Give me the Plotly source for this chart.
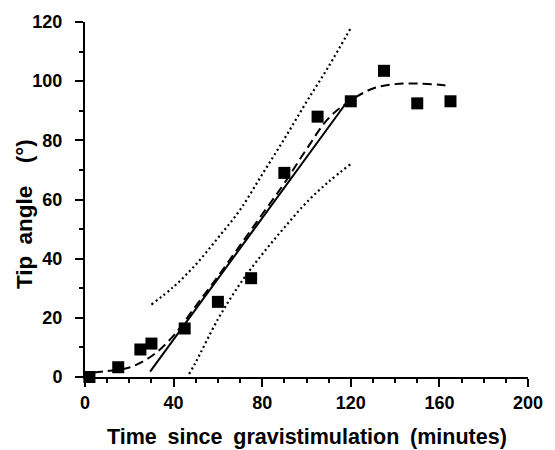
import plotly.graph_objects as go

# Data points (time in minutes, tip angle in degrees)
time_pts = [2, 15, 25, 30, 45, 60, 75, 90, 105, 120, 135, 150, 165]
angle_pts = [0, 3.3, 9.3, 11.3, 16.4, 25.4, 33.4, 69, 88, 93.2, 103.5, 92.5, 93.2]

# Linear regression line (solid)
lin_x = [29.4, 117.5]
lin_y = [1.8, 92.2]

# Fitted sigmoid curve (dashed)
curve_x = [4, 10, 20, 30, 40, 50, 60, 70, 80, 90, 100, 110, 120, 130, 140, 150, 160, 165]
curve_y = [1.5, 2.0, 3.2, 7.0, 14.0, 24.0, 34.0, 44.5, 55.0, 65.5, 77.0, 87.5, 93.5, 97.5, 99.0, 99.2, 98.8, 98.3]

# Confidence bands (dotted)
upper_x = [30, 40, 50, 60, 70, 80, 90, 100, 110, 120]
upper_y = [24.5, 30.5, 38.0, 47.0, 56.5, 68.5, 80.5, 93.0, 105.0, 118.0]
lower_x = [47, 50, 60, 70, 80, 90, 100, 110, 120]
lower_y = [1.0, 5.0, 19.5, 31.5, 41.5, 50.5, 59.0, 66.0, 72.0]

x_ticks = [0, 40, 80, 120, 160, 200]
y_ticks = [0, 20, 40, 60, 80, 100, 120]

x_title = "Time\u2002since\u2002gravistimulation\u2002(minutes)"
y_title = "Tip\u2002angle\u2003(°)"

fig = go.Figure()
fig.add_trace(go.Scatter(x=upper_x, y=upper_y, mode="lines", line_shape="spline",
                         line=dict(color="black", width=2.2, dash="2px,3px"), cliponaxis=False))
fig.add_trace(go.Scatter(x=lower_x, y=lower_y, mode="lines", line_shape="spline",
                         line=dict(color="black", width=2.2, dash="2px,3px"), cliponaxis=False))
fig.add_trace(go.Scatter(x=lin_x, y=lin_y, mode="lines",
                         line=dict(color="black", width=2), cliponaxis=False))
fig.add_trace(go.Scatter(x=curve_x, y=curve_y, mode="lines", line_shape="spline",
                         line=dict(color="black", width=2, dash="9px,5px"), cliponaxis=False))
fig.add_trace(go.Scatter(x=time_pts, y=angle_pts, mode="markers",
                         marker=dict(symbol="square", size=12, color="black"), cliponaxis=False))

font_fam = "Liberation Sans, Arial, sans-serif"
fig.update_layout(
    width=555, height=450,
    margin=dict(l=85, r=17, t=18, b=73),
    paper_bgcolor="white", plot_bgcolor="white",
    showlegend=False,
    font=dict(family=font_fam, color="black"),
    annotations=[
        dict(text=x_title, xref="paper", yref="paper", x=0.502, y=-0.168,
             xanchor="center", yanchor="middle", showarrow=False,
             font=dict(size=21.5, weight="bold", family=font_fam, color="black")),
        dict(text=y_title, xref="paper", yref="paper", x=-0.137, y=0.46,
             xanchor="center", yanchor="middle", showarrow=False, textangle=-90,
             font=dict(size=22.5, weight="bold", family=font_fam, color="black")),
    ],
)
fig.update_xaxes(
    range=[0, 200], tickvals=x_ticks, ticktext=[str(v) for v in x_ticks],
    showline=True, linecolor="black", linewidth=2, showgrid=False, zeroline=False,
    ticks="outside", ticklen=8, tickwidth=2, tickcolor="black", ticklabelstandoff=0,
    minor=dict(dtick=10, ticks="outside", ticklen=4, tickwidth=1.5, tickcolor="black"),
    tickfont=dict(size=18, weight="bold", family=font_fam),
)
fig.update_yaxes(
    range=[0, 120], tickvals=y_ticks, ticktext=[str(v) for v in y_ticks],
    showline=True, linecolor="black", linewidth=2, showgrid=False, zeroline=False,
    ticks="outside", ticklen=8, tickwidth=2, tickcolor="black", ticklabelstandoff=9,
    minor=dict(dtick=10, ticks="outside", ticklen=4, tickwidth=1.5, tickcolor="black"),
    tickfont=dict(size=18, weight="bold", family=font_fam),
)

fig.write_html("out.html")
